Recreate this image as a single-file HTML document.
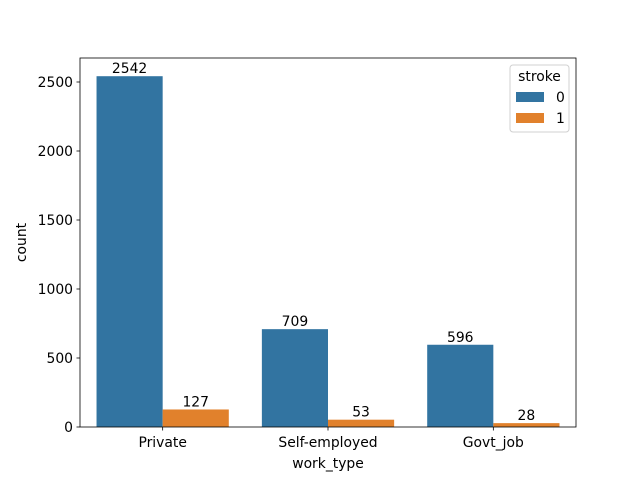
<!DOCTYPE html>
<html><head><meta charset="utf-8"><style>body{margin:0;background:#fff}svg{font-family:"DejaVu Sans","Liberation Sans",sans-serif}</style></head>
<body>
<svg id="chart" width="640" height="480" xmlns="http://www.w3.org/2000/svg"></svg>
<script>
const categories = ["Private","Self-employed","Govt_job"];
const series0 = [2542,709,596];
const series1 = [127,53,28];
const seriesNames = ["0","1"];
const yTicks = [0,500,1000,1500,2000,2500];
const colors = ["#3274a1","#e1812c"];
const L=80,R=576,T=58,B=427;
const FS=13.9;
const ns="http://www.w3.org/2000/svg";
const svg=document.getElementById('chart');
const y=v=>B-v*(B-82)/2500;
const bw=(R-L)/categories.length;
const xc=i=>L+bw*(i+0.5);
function mk(t,a,txt){const e=document.createElementNS(ns,t);for(const k in a)e.setAttribute(k,a[k]);if(txt!==undefined)e.textContent=txt;svg.appendChild(e);return e;}
[series0,series1].forEach((s,si)=>{s.forEach((v,i)=>{
 const x0=xc(i)-bw*0.4+si*bw*0.4;
 const r=mk('rect',{x:x0,y:y(v),width:bw*0.4,height:B-y(v),fill:colors[si]});
 
 
 const t=mk('text',{x:x0+bw*0.2,y:y(v)-3,'text-anchor':'middle','font-size':FS},v);
 
 
});});
const ax=mk('rect',{x:L,y:T,width:R-L,height:B-T,fill:'none',stroke:'#000','stroke-width':0.8});


yTicks.forEach(v=>{
 mk('line',{x1:L-3.5,x2:L,y1:y(v),y2:y(v),stroke:'#000','stroke-width':0.8});
 const t=mk('text',{x:L-7,y:y(v)+5,'text-anchor':'end','font-size':FS},v);
 
 
});
categories.forEach((c,i)=>{
 mk('line',{x1:xc(i),x2:xc(i),y1:B,y2:B+3.5,stroke:'#000','stroke-width':0.8});
 const t=mk('text',{x:xc(i),y:B+20,'text-anchor':'middle','font-size':FS},c);
 
 
});
let t=mk('text',{x:(L+R)/2,y:468,'text-anchor':'middle','font-size':FS},'work_type');


t=mk('text',{x:26,y:(T+B)/2,'text-anchor':'middle','font-size':FS,transform:`rotate(-90 26 ${(T+B)/2})`},'count');


const lg=mk('rect',{x:510,y:65,width:59,height:67,rx:3,fill:'#fff',stroke:'#ccc','stroke-width':1,opacity:0.9});


t=mk('text',{x:539.5,y:81,'text-anchor':'middle','font-size':FS},'stroke');


seriesNames.forEach((n,i)=>{
 const r=mk('rect',{x:516,y:92+i*21,width:28,height:10,fill:colors[i]});
 
 
 const tt=mk('text',{x:556,y:102+i*21,'font-size':FS},n);
 
 
});
</script>
</body></html>
